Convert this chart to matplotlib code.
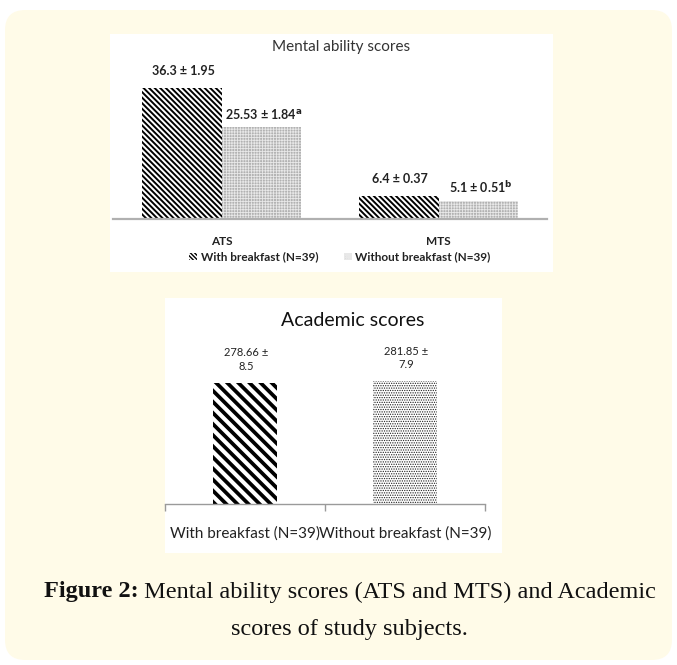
import matplotlib
matplotlib.use("Agg")
import matplotlib.pyplot as plt
from matplotlib.patches import FancyBboxPatch, Rectangle, Patch
import numpy as np

# ---------------- data ----------------
groups = ["ATS", "MTS"]
with_bf = [36.3, 6.4]
with_sd = [1.95, 0.37]
without_bf = [25.53, 5.1]
without_sd = [1.84, 0.51]
sig_marks = ["a", "b"]
series_names = ["With breakfast (N=39)", "Without breakfast (N=39)"]

academic_labels = ["With breakfast (N=39)", "Without breakfast (N=39)"]
academic_means = [278.66, 281.85]
academic_sd = [8.5, 7.9]

W, H = 677, 665
fig = plt.figure(figsize=(W / 100, H / 100), dpi=100)
fig.patch.set_facecolor("white")

def fx(px):
    return px / W

def fy(py):
    return 1 - py / H

SANS = ["Lato", "DejaVu Sans"]

# cream rounded background
bg = FancyBboxPatch((fx(5), fy(660)), fx(667), (650) / H,
                    boxstyle="round,pad=0,rounding_size=0.03",
                    transform=fig.transFigure, facecolor="#fffbe8",
                    edgecolor="none", zorder=-10)
fig.patches.append(bg)
# white chart panels
fig.patches.append(Rectangle((fx(110), fy(272)), fx(443), (272 - 34) / H,
                             transform=fig.transFigure, facecolor="white",
                             edgecolor="none", zorder=-9))
fig.patches.append(Rectangle((fx(165), fy(553)), fx(337), (553 - 298) / H,
                             transform=fig.transFigure, facecolor="white",
                             edgecolor="none", zorder=-9))

def set_hlw(patches, lw):
    for p in patches:
        if hasattr(p, "set_hatch_linewidth"):
            p.set_hatch_linewidth(lw)

# ---------------- top chart ----------------
ax1 = fig.add_axes([fx(113), fy(219), (547 - 113) / W, (219 - 60) / H])
ax1.set_facecolor("none")
x = np.arange(len(groups))
bw = 0.365
plt.rcParams["hatch.linewidth"] = 1.4
b1 = ax1.bar(x - bw / 2, with_bf, bw, facecolor="white", edgecolor="black",
             hatch="\\" * 6, linewidth=0)
set_hlw(b1, 1.4)
plt.rcParams["hatch.linewidth"] = 0.6
b2 = ax1.bar(x + bw / 2, without_bf, bw, facecolor="#b2b2b2", edgecolor="#e8e8e8",
             hatch="+" * 6, linewidth=0)
set_hlw(b2, 0.6)
ax1.set_xlim(-0.5, 1.5)
ax1.set_ylim(0, 44)
for s in ["top", "left", "right"]:
    ax1.spines[s].set_visible(False)
ax1.spines["bottom"].set_color("#b0b0b0")
ax1.spines["bottom"].set_linewidth(1.6)
ax1.set_yticks([])
ax1.set_xticks(x)
ax1.set_xticklabels(groups, fontfamily=SANS, fontsize=8.5, fontweight="bold",
                    color="#222222")
ax1.tick_params(axis="x", length=0, pad=12)

for i in range(len(groups)):
    ax1.annotate(f"{with_bf[i]} ± {with_sd[i]}", (x[i] - bw / 2, with_bf[i]),
                 xytext=(1, 8), textcoords="offset points", ha="center",
                 va="bottom", fontsize=9, fontweight="bold", family=SANS,
                 color="#222222")
    ax1.annotate(f"{without_bf[i]} ± {without_sd[i]}" + r"$^{\mathbf{" + sig_marks[i] + "}}$",
                 (x[i] + bw / 2, without_bf[i]),
                 xytext=(2, 4), textcoords="offset points", ha="center",
                 va="bottom", fontsize=9, fontweight="bold", family=SANS,
                 color="#222222")

fig.text(fx(341), fy(47), "Mental ability scores", ha="center", va="center",
         fontsize=11, family=SANS, color="#333333")

plt.rcParams["hatch.linewidth"] = 1.0
h1 = Patch(facecolor="white", edgecolor="black", hatch="\\" * 8, linewidth=0)
h2 = Patch(facecolor="#b2b2b2", edgecolor="#e8e8e8", hatch="+" * 8, linewidth=0)
fig.legend([h1, h2], series_names, loc="center", bbox_to_anchor=(fx(340), fy(257)),
           ncol=2, frameon=False, handlelength=0.65, handleheight=0.6,
           handletextpad=0.3, columnspacing=2.2,
           prop={"family": SANS, "size": 8.5, "weight": "bold"},
           labelcolor="#222222")

# ---------------- bottom chart ----------------
ax2 = fig.add_axes([fx(165), fy(504), (485 - 165) / W, (504 - 330) / H])
ax2.set_facecolor("none")
x2 = np.arange(len(academic_labels))
plt.rcParams["hatch.linewidth"] = 2.7
c1 = ax2.bar(x2[0], academic_means[0], 0.4, facecolor="white", edgecolor="black",
             hatch="\\\\\\", linewidth=0)
set_hlw(c1, 2.7)
plt.rcParams["hatch.linewidth"] = 0.6
c2 = ax2.bar(x2[1], academic_means[1], 0.4, facecolor="white", edgecolor="#222222",
             hatch="." * 7, linewidth=0)
set_hlw(c2, 0.6)
ax2.set_xlim(-0.5, 1.5)
ax2.set_ylim(0, 400)
for s in ["top", "left", "right"]:
    ax2.spines[s].set_visible(False)
ax2.spines["bottom"].set_color("#9a9a9a")
ax2.spines["bottom"].set_linewidth(1.0)
ax2.set_yticks([])
ax2.set_xticks(x2)
ax2.set_xticklabels(academic_labels, fontfamily=SANS, fontsize=11,
                    color="#222222")
ax2.tick_params(axis="x", which="major", length=0, pad=16)
ax2.set_xticks([-0.5, 0.5, 1.5], minor=True)
ax2.tick_params(axis="x", which="minor", length=5, color="#9a9a9a", width=1.0)

for i in range(len(academic_labels)):
    ax2.annotate(f"{academic_means[i]} ±\n{academic_sd[i]}",
                 (x2[i] + 0.01, academic_means[i]),
                 xytext=(0, 8), textcoords="offset points", ha="center",
                 va="bottom", fontsize=8, family=SANS, color="#222222",
                 linespacing=1.3)

fig.text(fx(353), fy(320), "Academic scores", ha="center", va="center",
         fontsize=14, family=SANS, color="#111111")

# ---------------- caption ----------------
SERIF = ["Liberation Serif", "DejaVu Serif"]
cap_size = 17.5
renderer = fig.canvas.get_renderer()
t_bold = fig.text(0, fy(592), "Figure 2:", fontsize=cap_size, fontweight="bold",
                  family=SERIF, va="center", ha="left", color="#111111")
t_rest = fig.text(0, fy(592), " Mental ability scores (ATS and MTS) and Academic",
                  fontsize=cap_size, family=SERIF, va="center", ha="left",
                  color="#111111")
wb = t_bold.get_window_extent(renderer).width
wr = t_rest.get_window_extent(renderer).width
start = 350 - (wb + wr) / 2
t_bold.set_x(start / W)
t_rest.set_x((start + wb) / W)
fig.text(fx(349), fy(629), "scores of study subjects.", fontsize=cap_size,
         family=SERIF, va="center", ha="center", color="#111111")

fig.savefig("out.png", dpi=100, facecolor=fig.get_facecolor())
